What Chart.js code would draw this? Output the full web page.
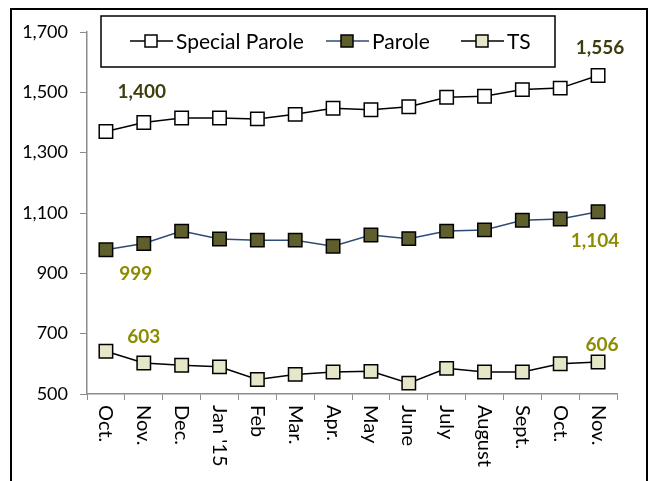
<!DOCTYPE html>
<html>
<head>
<meta charset="utf-8">
<script src="https://cdn.jsdelivr.net/npm/chart.js@4"></script>
<style>
html,body{margin:0;padding:0;background:#fff;}
#wrap{width:650px;height:481px;position:relative;}
</style>
</head>
<body>
<div id="wrap"><canvas id="c" width="650" height="481"></canvas></div>
<script>
const categories = ["Oct.","Nov.","Dec.","Jan '15","Feb","Mar.","Apr.","May","June","July","August","Sept.","Oct.","Nov."];
const specialParole = [1370,1400,1415,1415,1412,1427,1447,1442,1452,1484,1487,1509,1514,1556];
const parole = [978,999,1040,1014,1010,1010,990,1027,1015,1040,1044,1076,1080,1104];
const ts = [642,603,595,590,548,565,573,575,536,585,573,573,600,606];
const seriesNames = ["Special Parole","Parole","TS"];
const yTicks = [500,700,900,1100,1300,1500,1700];
// value callouts: [series index, point index, text]
const callouts = [[0,1,"1,400"],[0,13,"1,556"],[1,1,"999"],[1,13,"1,104"],[2,1,"603"],[2,13,"606"]];

const FONT = "Lato, 'Open Sans', 'Liberation Sans', sans-serif";
const calloutStyle = [
  {dx:-2, dy:-31, color:"#3d3d0e"},
  {dx:2, dy:-28, color:"#3d3d0e"},
  {dx:-8, dy:30, color:"#8c8c00"},
  {dx:-3, dy:29, color:"#8c8c00"},
  {dx:0, dy:-26, color:"#8c8c00"},
  {dx:4, dy:-17, color:"#8c8c00"}
];

const extras = {
  id:"extras",
  beforeDraw(chart){
    const ctx = chart.ctx;
    ctx.save();
    ctx.fillStyle="#fff";
    ctx.fillRect(0,0,chart.width,chart.height);
    ctx.strokeStyle="#000";
    ctx.lineWidth=2;
    ctx.strokeRect(11,9,636,500);
    ctx.restore();
  },
  afterDraw(chart){
    const ctx = chart.ctx;
    const xs = chart.scales.x;
    ctx.save();
    // rotated x labels
    ctx.font = "20px " + FONT;
    ctx.fillStyle="#000";
    ctx.textAlign="left";
    ctx.textBaseline="middle";
    categories.forEach((c,i)=>{
      const x = xs.getPixelForValue(i);
      ctx.save();
      ctx.translate(x, chart.chartArea.bottom+11);
      ctx.rotate(Math.PI/2);
      ctx.fillText(c,0,0);
      ctx.restore();
    });
    // callouts
    ctx.font = "bold 19px " + FONT;
    ctx.textAlign="center";
    callouts.forEach((c,k)=>{
      const meta = chart.getDatasetMeta(c[0]);
      const pt = meta.data[c[1]];
      const st = calloutStyle[k];
      ctx.fillStyle = st.color;
      ctx.fillText(c[2], pt.x+st.dx, pt.y+st.dy);
    });
    // legend box
    ctx.strokeStyle="#000";
    ctx.lineWidth=1.5;
    ctx.strokeRect(101,16,454,51);
    const legX = [130,326,461];
    ctx.font = "21px " + FONT;
    ctx.textAlign="left";
    ctx.textBaseline="middle";
    chart.data.datasets.forEach((ds,i)=>{
      const x0 = legX[i], y = 41;
      ctx.strokeStyle = ds.borderColor;
      ctx.lineWidth = 1.5;
      ctx.beginPath(); ctx.moveTo(x0,y); ctx.lineTo(x0+43,y); ctx.stroke();
      ctx.fillStyle = ds.pointBackgroundColor;
      ctx.strokeStyle = "#000";
      ctx.fillRect(x0+15,y-6,12,12);
      ctx.strokeRect(x0+15,y-6,12,12);
      ctx.fillStyle="#000";
      ctx.fillText(ds.label, x0+46, y+1);
    });
    ctx.restore();
  }
};

new Chart(document.getElementById("c"),{
  type:"line",
  data:{
    labels:categories,
    datasets:[
      {label:seriesNames[0],data:specialParole,borderColor:"#000",borderWidth:1.5,pointStyle:"rect",pointRadius:9.5,pointBorderWidth:1.5,pointBackgroundColor:"#ffffff",pointBorderColor:"#000",tension:0},
      {label:seriesNames[1],data:parole,borderColor:"#2e4a78",borderWidth:1.5,pointStyle:"rect",pointRadius:9.5,pointBorderWidth:1.5,pointBackgroundColor:"#5f5f2d",pointBorderColor:"#000",tension:0},
      {label:seriesNames[2],data:ts,borderColor:"#000",borderWidth:1.5,pointStyle:"rect",pointRadius:9.5,pointBorderWidth:1.5,pointBackgroundColor:"#e6e6c8",pointBorderColor:"#000",tension:0}
    ]
  },
  options:{
    responsive:false,
    animation:false,
    devicePixelRatio:1,
    layout:{padding:{top:32,right:33,left:0,bottom:0}},
    plugins:{legend:{display:false},tooltip:{enabled:false}},
    scales:{
      x:{
        offset:true,
        grid:{display:true,drawOnChartArea:false,drawTicks:true,tickLength:6,color:"#8c8c8c",offset:true},
        border:{color:"#8c8c8c",width:1.5},
        ticks:{display:false},
        afterFit(s){s.height=87;}
      },
      y:{
        min:500,max:1700,
        afterBuildTicks(s){s.ticks = yTicks.map(v=>({value:v}));},
        grid:{display:true,drawOnChartArea:false,drawTicks:true,tickLength:7,color:"#8c8c8c"},
        border:{color:"#8c8c8c",width:1.5},
        ticks:{color:"#000",padding:12,font:{family:FONT,size:18},callback:v=>v.toLocaleString("en-US")},
        afterFit(s){s.width=87;}
      }
    }
  },
  plugins:[extras]
});
</script>
</body>
</html>
